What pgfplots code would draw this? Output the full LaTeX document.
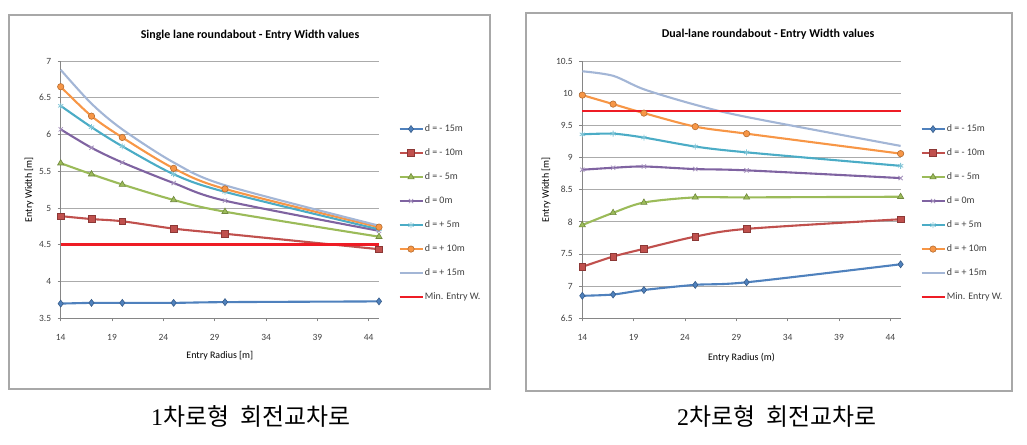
\documentclass[border=0pt]{standalone}
\usepackage{pgfplots}
\pgfplotsset{compat=1.18}
\usepackage{fontspec}
\setmainfont{Carlito}
\newfontfamily\kr{Noto Sans CJK KR}
\newfontfamily\capserif{Liberation Serif}
\usetikzlibrary{plotmarks}
\definecolor{cA}{HTML}{4F81BD}\definecolor{cAd}{HTML}{385D8A}
\definecolor{cB}{HTML}{C0504D}\definecolor{cBd}{HTML}{8C3836}
\definecolor{cC}{HTML}{9BBB59}\definecolor{cCd}{HTML}{71893F}
\definecolor{cD}{HTML}{7F63A1}
\definecolor{cE}{HTML}{4BACC6}
\definecolor{cF}{HTML}{F79646}\definecolor{cFd}{HTML}{B66D31}
\definecolor{cG}{HTML}{A3B6D6}
\definecolor{cMin}{HTML}{EE1C25}
\definecolor{axgray}{HTML}{868686}
\definecolor{gridgray}{HTML}{ABABAB}
\definecolor{tickc}{HTML}{404040}
\definecolor{framegray}{HTML}{A8A8A8}
\pgfplotsset{
  exstyle/.style={
    scale only axis, width=318.3bp, height=257.3bp,
    xmin=14, xmax=45, xtick={14,19,...,44},
    axis lines=left, axis line style={-, draw=axgray, line width=0.8bp},
    ymajorgrids, grid style={draw=gridgray, line width=0.8bp},
    tick style={draw=axgray, line width=0.8bp}, tick align=outside, major tick length=3bp,
    tick label style={font=\fontsize{9.5}{10}\selectfont, text=tickc},
    /pgf/number format/assume math mode=true,
    xticklabel style={yshift=-10bp},
    yticklabel style={xshift=-3bp},
    label style={font=\bfseries\fontsize{10}{12}\selectfont},
    legend style={draw=none, fill=none, inner sep=0pt, font=\fontsize{10}{11}\selectfont, text=tickc,
      row sep=12.5bp, nodes={inner sep=1bp, text height=7.5bp, text depth=2bp}},
    legend cell align=left,
    legend image code/.code={\draw[mark repeat=2,mark phase=2] plot coordinates {(0bp,0bp)(11.5bp,0bp)(23bp,0bp)};},
    clip=false,
    every axis plot/.append style={line width=2.1bp, smooth, tension=0.5},
  },
  s1/.style={color=cA, mark=diamond*, mark size=3.5bp, mark options={fill=cA, draw=cAd, line width=0.6bp, solid}},
  s2/.style={color=cB, mark=square*, mark size=3.3bp, mark options={fill=cB, draw=cBd, line width=0.6bp, solid}},
  s3/.style={color=cC, mark=triangle*, mark size=3.6bp, mark options={fill=cC, draw=cCd, line width=0.6bp, solid}},
  s4/.style={color=cD, mark=x, mark size=3bp, mark options={draw=cD!70, line width=0.8bp, solid}},
  s5/.style={color=cE, mark=asterisk, mark size=3bp, mark options={draw=cE!70, line width=0.8bp, solid}},
  s6/.style={color=cF, mark=*, mark size=3.2bp, mark options={fill=cF, draw=cFd, line width=0.6bp, solid}},
  s7/.style={color=cG, no marks},
  s8/.style={color=cMin, no marks, line width=2.6bp},
}
\begin{document}
\begin{tikzpicture}
\path (0,0) rectangle (1027bp,-445bp);
% frames
\draw[framegray, line width=1.3bp] (9bp,-15bp) rectangle (490bp,-389bp);
\draw[framegray, line width=1.3bp] (526bp,-13bp) rectangle (1012bp,-391bp);
% titles
\node[font=\bfseries\fontsize{12}{14}\selectfont] at (250bp,-35bp) {Single lane roundabout - Entry Width values};
\node[font=\bfseries\fontsize{12}{14}\selectfont] at (768bp,-34bp) {Dual-lane roundabout - Entry Width values};
% captions
\node[anchor=base, font=\fontsize{24}{28}\selectfont] at (251bp,-425bp) {{\capserif 1}{\kr 차로형}\hspace{0.5em}{\kr 회전교차로}};
\node[anchor=base, font=\fontsize{24}{28}\selectfont] at (777bp,-425bp) {{\capserif 2}{\kr 차로형}\hspace{0.5em}{\kr 회전교차로}};

\begin{axis}[exstyle,
  at={(60.7bp,-318.3bp)}, anchor=south west,
  ymin=3.5, ymax=7, ytick={3.5,4,...,7},
  xlabel={Entry Radius [m]}, ylabel={Entry Width [m]},
  every axis x label/.style={at={(axis description cs:0.5,-0.1465)}, anchor=center},
  every axis y label/.style={at={(axis description cs:-0.0996,0.5)}, rotate=90, anchor=center},
  legend style={at={(axis description cs:1.0597,0.409)}, anchor=west},
]
\addplot[s1] coordinates {(14,3.70)(17,3.71)(20,3.71)(25,3.71)(30,3.72)(45,3.73)};
\addlegendentry{d = - 15m}
\addplot[s2] coordinates {(14,4.89)(17,4.85)(20,4.82)(25,4.72)(30,4.65)(45,4.44)};
\addlegendentry{d = - 10m}
\addplot[s3] coordinates {(14,5.61)(17,5.46)(20,5.32)(25,5.11)(30,4.95)(45,4.61)};
\addlegendentry{d = - 5m}
\addplot[s4] coordinates {(14,6.07)(17,5.82)(20,5.62)(25,5.34)(30,5.10)(45,4.69)};
\addlegendentry{d = 0m}
\addplot[s5] coordinates {(14,6.39)(17,6.10)(20,5.84)(25,5.46)(30,5.22)(45,4.71)};
\addlegendentry{d = + 5m}
\addplot[s6] coordinates {(14,6.65)(17,6.25)(20,5.96)(25,5.54)(30,5.26)(45,4.74)};
\addlegendentry{d = + 10m}
\addplot[s7] coordinates {(14,6.88)(17,6.42)(20,6.07)(25,5.62)(30,5.31)(45,4.76)};
\addlegendentry{d = + 15m}
\addplot[s8] coordinates {(14,4.5)(45,4.5)};
\addlegendentry{Min. Entry W.}
\end{axis}

\begin{axis}[exstyle,
  at={(582.3bp,-318.3bp)}, anchor=south west,
  ymin=6.5, ymax=10.5, ytick={6.5,7,...,10.5},
  xlabel={Entry Radius (m)}, ylabel={Entry Width [m]},
  every axis x label/.style={at={(axis description cs:0.5,-0.154)}, anchor=center},
  every axis y label/.style={at={(axis description cs:-0.114,0.5)}, rotate=90, anchor=center},
  legend style={at={(axis description cs:1.061,0.409)}, anchor=west},
]
\addplot[s1] coordinates {(14,6.85)(17,6.87)(20,6.94)(25,7.02)(30,7.06)(45,7.34)};
\addlegendentry{d = - 15m}
\addplot[s2] coordinates {(14,7.30)(17,7.46)(20,7.58)(25,7.77)(30,7.89)(45,8.04)};
\addlegendentry{d = - 10m}
\addplot[s3] coordinates {(14,7.95)(17,8.14)(20,8.30)(25,8.38)(30,8.38)(45,8.39)};
\addlegendentry{d = - 5m}
\addplot[s4] coordinates {(14,8.81)(17,8.84)(20,8.86)(25,8.82)(30,8.80)(45,8.68)};
\addlegendentry{d = 0m}
\addplot[s5] coordinates {(14,9.36)(17,9.37)(20,9.31)(25,9.17)(30,9.08)(45,8.87)};
\addlegendentry{d = + 5m}
\addplot[s6] coordinates {(14,9.97)(17,9.83)(20,9.69)(25,9.48)(30,9.37)(45,9.06)};
\addlegendentry{d = + 10m}
\addplot[s7] coordinates {(14,10.34)(17,10.27)(20,10.06)(25,9.82)(30,9.63)(45,9.18)};
\addlegendentry{d = + 15m}
\addplot[s8] coordinates {(14,9.72)(45,9.72)};
\addlegendentry{Min. Entry W.}
\end{axis}
\end{tikzpicture}
\end{document}
